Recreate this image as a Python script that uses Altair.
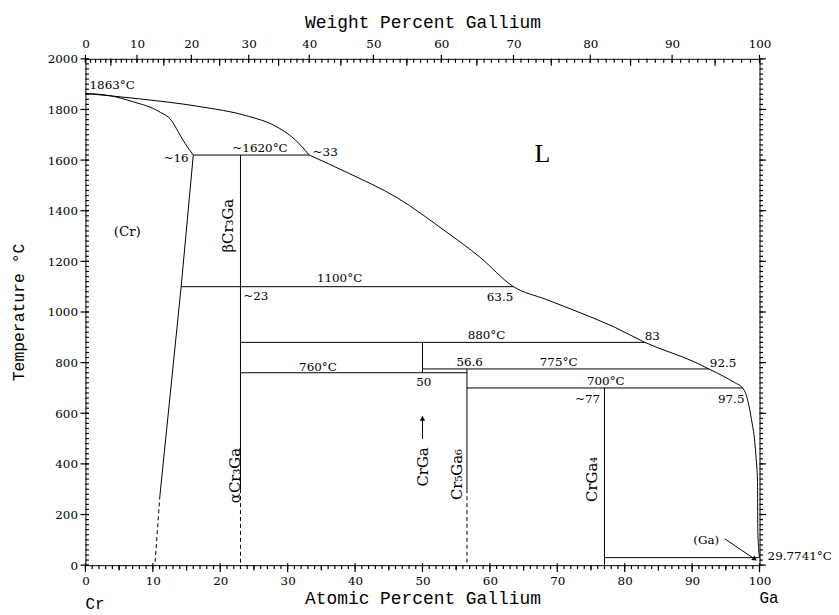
import altair as alt
import pandas as pd

# atomic masses used to place the weight-percent (top) axis ticks
M_CR = 51.996
M_GA = 69.723


def wt_to_at(w):
    frac = (w / M_GA) / (w / M_GA + (100.0 - w) / M_CR)
    return round(100.0 * frac, 6)


# ---------------- curves (atomic % Ga, temperature degC) ----------------
liq1_x = [0, 8, 16.8, 24.2, 28, 31.0, 33.2]
liq1_t = [1863, 1842, 1812, 1773, 1737, 1683, 1620]

sol_x = [0, 3.5, 7, 10.9, 12.8, 13.8, 14.8, 16]
sol_t = [1863, 1855, 1831, 1792, 1755, 1710, 1665, 1620]

solvus_x = [16, 14.2, 11.05]
solvus_t = [1620, 1100, 275]
solvus_dash_x = [11.05, 10.3]
solvus_dash_t = [275, 0]

liq2_x = [33.2, 38.9, 46.2, 53.6, 58.5, 63.5, 68.3, 73.5, 78.5, 83, 90.4, 92.5,
          96.3, 97.5, 98.0, 98.8, 99.3, 99.5, 99.7, 99.75, 100]
liq2_t = [1620, 1550, 1452, 1315, 1217, 1100, 1050, 996, 940, 880, 802, 775,
          721, 700, 674, 576, 485, 420, 330, 130, 29.77]

# invariant (horizontal) lines
iso_x1 = [16, 14.2, 23, 50, 23, 56.6, 77]
iso_x2 = [33.2, 63.5, 83, 92.5, 56.6, 97.5, 100]
iso_t = [1620, 1100, 880, 775, 760, 700, 29.77]

# compound (vertical) lines
vert_x = [23, 50, 56.6, 77]
vert_t1 = [1620, 880, 775, 700]
vert_t2 = [300, 760, 300, 0]
vdash_x = [23, 56.6]
vdash_t1 = [300, 300]
vdash_t2 = [0, 0]

# arrows
arrow_crga_x = [50, 50]
arrow_crga_t = [498, 588]
arrow_ga_x = [94.85, 99.5]
arrow_ga_t = [104, 20]
head_x = [50, 99.3]
head_t = [580, 24]
head_angle = [0, 124]

# ---------------- labels ----------------
lab_text = ["1863°C", "~16", "~1620°C", "~33", "1100°C", "~23", "63.5",
            "880°C", "83", "56.6", "775°C", "92.5", "50", "700°C", "~77", "97.5",
            "760°C", "(Ga)", "29.7741°C"]
lab_x = [0.6, 15.3, 25.9, 33.7, 37.7, 23.4, 61.5,
         59.5, 84.1, 57.0, 70.2, 94.6, 50.2, 77.2, 74.5, 95.8,
         34.5, 92.1, 101.2]
lab_t = [1898, 1609, 1648, 1633, 1133, 1063, 1060,
         910, 906, 801, 804, 800, 722, 727, 655, 655,
         784, 99, 35]
lab_align = ["left", "right", "center", "left", "center", "left", "center",
             "center", "center", "center", "center", "center", "center", "center",
             "center", "center", "center", "center", "left"]

region_text = ["(Cr)"]
region_x = [6.2]
region_t = [1315]

rot_text = ["βCr₃Ga", "αCr₃Ga", "CrGa", "Cr₅Ga₆", "CrGa₄"]
rot_x = [21.2, 22.2, 50.1, 55.1, 75.2]
rot_t = [1341, 354, 388, 358, 339]

end_text = ["Cr", "Ga"]
end_x = [0, 100]
end_t = [-152, -128]

phase_text = ["L"]
phase_x = [67.8]
phase_t = [1623]

# axis ticks
at_major = list(range(0, 101, 10))
at_minor = list(range(0, 101, 1))
at_mid = list(range(5, 100, 10))
wt_major = list(range(0, 101, 10))
wt_minor = list(range(0, 101, 1))
wt_mid = list(range(5, 100, 10))
t_major = list(range(0, 2001, 200))
t_minor = list(range(0, 2001, 20))

# ---------------- build tables ----------------
rows = []


def add(name, xs_, ts_, style):
    for i, (x, t) in enumerate(zip(xs_, ts_)):
        rows.append(dict(seg=name, ord=i, x=x, t=t, style=style))


add("liq1", liq1_x, liq1_t, "curve")
add("sol", sol_x, sol_t, "curve")
add("liq2", liq2_x, liq2_t, "curve")
add("solvus", solvus_x, solvus_t, "solid")
add("solvus_d", solvus_dash_x, solvus_dash_t, "dash")
for i in range(len(iso_t)):
    add(f"iso{i}", [iso_x1[i], iso_x2[i]], [iso_t[i], iso_t[i]], "solid")
for i in range(len(vert_x)):
    add(f"v{i}", [vert_x[i], vert_x[i]], [vert_t1[i], vert_t2[i]], "solid")
for i in range(len(vdash_x)):
    add(f"vd{i}", [vdash_x[i], vdash_x[i]], [vdash_t1[i], vdash_t2[i]], "dash")
add("arr1", arrow_crga_x, arrow_crga_t, "solid")
add("arr2", arrow_ga_x, arrow_ga_t, "solid")
lines = pd.DataFrame(rows)

heads = pd.DataFrame(dict(x=head_x, t=head_t, angle=head_angle))
labels = pd.DataFrame(dict(text=lab_text, x=lab_x, t=lab_t, align=lab_align))
regions = pd.DataFrame(dict(text=region_text, x=region_x, t=region_t))
rot = pd.DataFrame(dict(text=rot_text, x=rot_x, t=rot_t))
ends = pd.DataFrame(dict(text=end_text, x=end_x, t=end_t))
phase = pd.DataFrame(dict(text=phase_text, x=phase_x, t=phase_t))
anchor = pd.DataFrame(dict(x=[0], t=[0]))

W, H = 679, 510
xs = alt.Scale(domain=[0, 100], nice=False, zero=False)
ys = alt.Scale(domain=[0, 2000], nice=False, zero=False)

SERIF = "DejaVu Serif"
MONO = "Liberation Mono"


def X(axis=None):
    return alt.X("x:Q", scale=xs, axis=axis)


def Y(axis=None):
    return alt.Y("t:Q", scale=ys, axis=axis)


common = dict(domain=False, grid=False, ticks=False, labelFlush=False, labelOverlap=False)

curves = alt.Chart(lines[lines["style"] == "curve"]).mark_line(
    color="black", strokeWidth=1, interpolate="monotone").encode(
    x=X(), y=Y(), detail="seg:N", order="ord:Q")
solid = alt.Chart(lines[lines["style"] == "solid"]).mark_line(
    color="black", strokeWidth=1).encode(x=X(), y=Y(), detail="seg:N", order="ord:Q")
dashed = alt.Chart(lines[lines["style"] == "dash"]).mark_line(
    color="black", strokeWidth=1, strokeDash=[4, 3]).encode(
    x=X(), y=Y(), detail="seg:N", order="ord:Q")
arrowheads = alt.Chart(heads).mark_point(
    shape="triangle-up", filled=True, color="black", opacity=1, size=30).encode(
    x=X(), y=Y(), angle=alt.Angle("angle:Q", scale=None))

text_layers = []
for al in ["left", "center", "right"]:
    text_layers.append(
        alt.Chart(labels[labels["align"] == al]).mark_text(
            font=SERIF, fontSize=12, color="black", align=al, baseline="middle").encode(
            x=X(), y=Y(), text="text:N"))

region_layer = alt.Chart(regions).mark_text(
    font=SERIF, fontSize=13.5, color="black", align="center", baseline="middle").encode(
    x=X(), y=Y(), text="text:N")
rot_layer = alt.Chart(rot).mark_text(
    font=SERIF, fontSize=15, color="black", angle=270, align="center",
    baseline="middle").encode(x=X(), y=Y(), text="text:N")
end_layer = alt.Chart(ends).mark_text(
    font=MONO, fontSize=16, color="black", align="left", baseline="middle").encode(
    x=X(), y=Y(), text="text:N")
phase_layer = alt.Chart(phase).mark_text(
    font="Liberation Serif", fontSize=26, color="black", align="center",
    baseline="middle").encode(x=X(), y=Y(), text="text:N")


# ---------------- tick marks (positions from the tick lists through the scales) ----------------
def xticks(values, y0, y1):
    df = pd.DataFrame(dict(x=values))
    return alt.Chart(df).mark_rule(color="black", strokeWidth=1.2).encode(
        x=X(), y=alt.value(y0), y2=alt.value(y1))


def yticks(values, x0, x1):
    df = pd.DataFrame(dict(t=values))
    return alt.Chart(df).mark_rule(color="black", strokeWidth=1.2).encode(
        y=Y(), x=alt.value(x0), x2=alt.value(x1))


tick_layers = [
    xticks(at_minor, H, H + 4),
    xticks(at_mid, H, H + 5.5),
    xticks(at_major, H - 2, H + 7),
    xticks([wt_to_at(w) for w in wt_minor], 0, 4),
    xticks([wt_to_at(w) for w in wt_mid], 0, 7),
    xticks([wt_to_at(w) for w in wt_major], -4, 4),
    yticks(t_minor, 0, 3.5),
    yticks(t_major, -5, 3.5),
    yticks(t_minor, W, W + 3.5),
    yticks(t_major, W, W + 6.5),
]

wt_expr = ("format(100*datum.value*69.723/(datum.value*69.723+(100-datum.value)*51.996), '.0f')")

axis_pairs = [
    (alt.Axis(orient="bottom", values=at_major, labelPadding=10,
              labelFont=SERIF, labelFontSize=12, labelColor="black", format="d",
              title="Atomic Percent Gallium", titleFont=MONO, titleFontSize=18,
              titleFontWeight="normal", titleColor="black", titlePadding=4, **common),
     alt.Axis(orient="left", values=t_major, labelPadding=8,
              labelFont=SERIF, labelFontSize=12, labelColor="black", format="d",
              title="Temperature °C", titleFont=MONO, titleFontSize=16.5,
              titleFontWeight="normal", titleColor="black", titlePadding=21, **common)),
    (alt.Axis(orient="top", values=[wt_to_at(w) for w in wt_major], labelPadding=8,
              labelFont=SERIF, labelFontSize=12, labelColor="black", labelExpr=wt_expr,
              title="Weight Percent Gallium", titleFont=MONO, titleFontSize=18,
              titleFontWeight="normal", titleColor="black", titlePadding=7, **common),
     None),
]

axis_layers = []
for xa, ya in axis_pairs:
    axis_layers.append(
        alt.Chart(anchor).mark_point(opacity=0).encode(x=X(xa), y=Y(ya)))

chart = alt.layer(
    *axis_layers, *tick_layers, curves, solid, dashed, arrowheads, *text_layers,
    region_layer, rot_layer, end_layer, phase_layer
).resolve_axis(x="independent", y="independent").properties(
    width=W, height=H,
    autosize=alt.AutoSizeParams(type="none"),
    padding={"left": 78, "top": 49, "right": 72, "bottom": 47},
    background="white",
).configure_view(stroke="black", strokeWidth=1)

chart.save("out.html", embed_options={"renderer": "svg", "actions": False})
